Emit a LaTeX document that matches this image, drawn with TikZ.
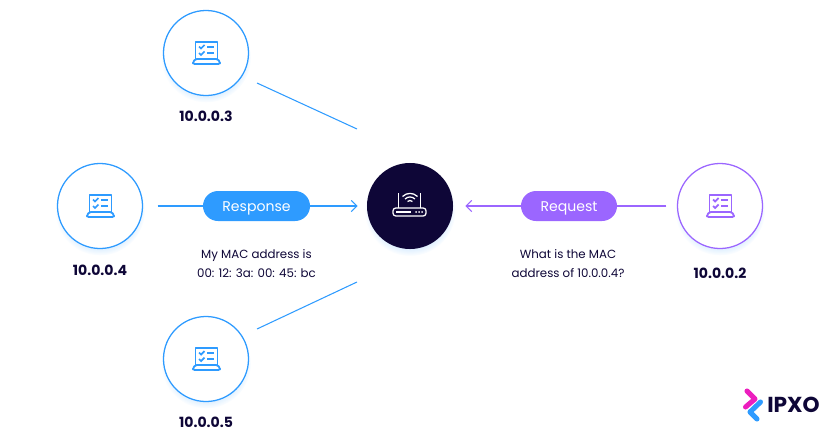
\documentclass[tikz,border=0pt]{standalone}
\usepackage{fontspec}
\setmainfont{Poppins}
\usetikzlibrary{arrows.meta,positioning,calc,shadows}
\definecolor{ipxoblue}{RGB}{46,155,255}
\definecolor{ipxopurple}{RGB}{155,102,255}
\definecolor{ipxonavy}{RGB}{14,6,55}
\definecolor{ipxopink}{RGB}{236,30,190}
\tikzset{
  softshadow/.style={circular drop shadow={shadow xshift=0pt,shadow yshift=-3pt,shadow scale=1.06,fill=ipxoblue,opacity=.14}},
  hostnode/.style={circle,draw=#1,line width=0.9pt,fill=white,minimum size=2.125cm,inner sep=0pt,softshadow},
  pillnode/.style={rounded corners=0.375cm,fill=#1,text=white,minimum height=0.75cm,inner sep=0pt,text height=8.9pt,text depth=1.1pt,font=\fontsize{10}{12}\selectfont},
  iplabel/.style={text=ipxonavy,font=\fontsize{10}{12}\selectfont\bfseries,inner sep=0pt},
  notelabel/.style={text=ipxonavy,align=center,font=\fontsize{8.4}{13.5}\selectfont,inner sep=0pt},
  wire/.style={#1,line width=0.75pt},
  tip/.style={-{Straight Barb[length=4pt,width=8pt]}},
  pics/laptopicon/.style={code={
    \draw[#1,line width=1.25pt,line join=round] (-10.5,6) -- (-10.5,-11) -- (11.5,-11) -- (11.5,6);
    \draw[#1,line width=1.25pt,rounded corners=1pt,line join=round] (-10.5,6) -- (-13,9) -- (-13,11) -- (14,11) -- (14,9) -- (11.5,6) -- cycle;
    \draw[#1,line width=1.25pt] (-7,-6.5) -- (-5,-4.5) -- (-1.5,-8) (-7,0) -- (-5,2) -- (-1.5,-1.5);
    \draw[#1,line width=1.25pt] (1,-6) -- (8,-6) (1,0) -- (8,0);
  }},
  pics/routericon/.style={code={
    \draw[white,line width=0.9pt,rounded corners=2pt] (-17,2) rectangle (16,10);
    \draw[white,line width=0.9pt] (-11.5,2) -- (-11.5,-13.5) (10.5,2) -- (10.5,-13.5);
    \draw[white,line width=0.9pt] (-14,6) -- (1,6);
    \foreach \d in {6,9,12} \fill[white] (\d,6) circle (1);
    \draw[white,line width=0.9pt] (-2.5,-4.5) arc[start angle=-135,end angle=-45,radius=3.5];
    \draw[white,line width=0.9pt] (-5,-7) arc[start angle=-135,end angle=-45,radius=7];
    \draw[white,line width=0.9pt] (-7.5,-9.5) arc[start angle=-135,end angle=-45,radius=10.6];
  }}
}
\begin{document}
\begin{tikzpicture}[x=0.025cm,y=-0.025cm]
  \useasboundingbox (0,0) rectangle (820,441);
  % hosts round the router
  \foreach \n/\x/\y/\c in {host3/206/53/ipxoblue,host4/100/206/ipxoblue,host5/206/359/ipxoblue,host2/720/206/ipxopurple}
    {\node[hostnode=\c] (\n) at (\x,\y) {}; \pic at (\n) {laptopicon=\c};}
  \node[circle,fill=ipxonavy,minimum size=2.15cm,inner sep=0pt,softshadow] (router) at (410,206) {};
  \pic at (router) {routericon};
  \node[iplabel] (ip3) at (206,116) {10.0.0.3};
  \node[iplabel] (ip4) at (100,270) {10.0.0.4};
  \node[iplabel] (ip5) at (206,422) {10.0.0.5};
  \node[iplabel] (ip2) at (720,273) {10.0.0.2};
  % pills
  \node[pillnode=ipxoblue,minimum width=2.675cm] (response) at (256.5,206) {Response};
  \node[pillnode=ipxopurple,minimum width=2.4cm] (request) at (569,206) {Request};
  \node[notelabel] (respnote) at (256.5,264) {My MAC address is\\00: 12: 3a: 00: 45: bc};
  \node[notelabel] (reqnote) at (568,264) {What is the MAC\\address of 10.0.0.4?};
  % connectors
  \draw[wire=ipxoblue,shorten <=0.36cm] (host4) -- (response);
  \draw[wire=ipxoblue,tip,shorten >=0.23cm] (response) -- (router);
  \draw[wire=ipxopurple,shorten <=0.26cm] (host2) -- (request);
  \draw[wire=ipxopurple,tip,shorten >=0.3cm] (request) -- (router);
  \coordinate (topa) at (257,83); \coordinate (topb) at (357,129);
  \coordinate (bota) at (257,329); \coordinate (botb) at (357,282);
  \draw[wire=ipxoblue] (topa) -- (topb);
  \draw[wire=ipxoblue] (bota) -- (botb);
  % logo
  \draw[ipxopink,line width=3.6pt,line cap=round,line join=round] (747,391) -- (755,399) -- (745.5,407);
  \draw[ipxoblue,line width=3.6pt,line cap=round,line join=round] (760.5,402) -- (750,412) -- (757,419);
  \node[text=ipxonavy,font=\fontsize{15.4}{16}\selectfont\bfseries,inner sep=0pt] (logo) at (793.5,405) {IPXO};
\end{tikzpicture}
\end{document}
